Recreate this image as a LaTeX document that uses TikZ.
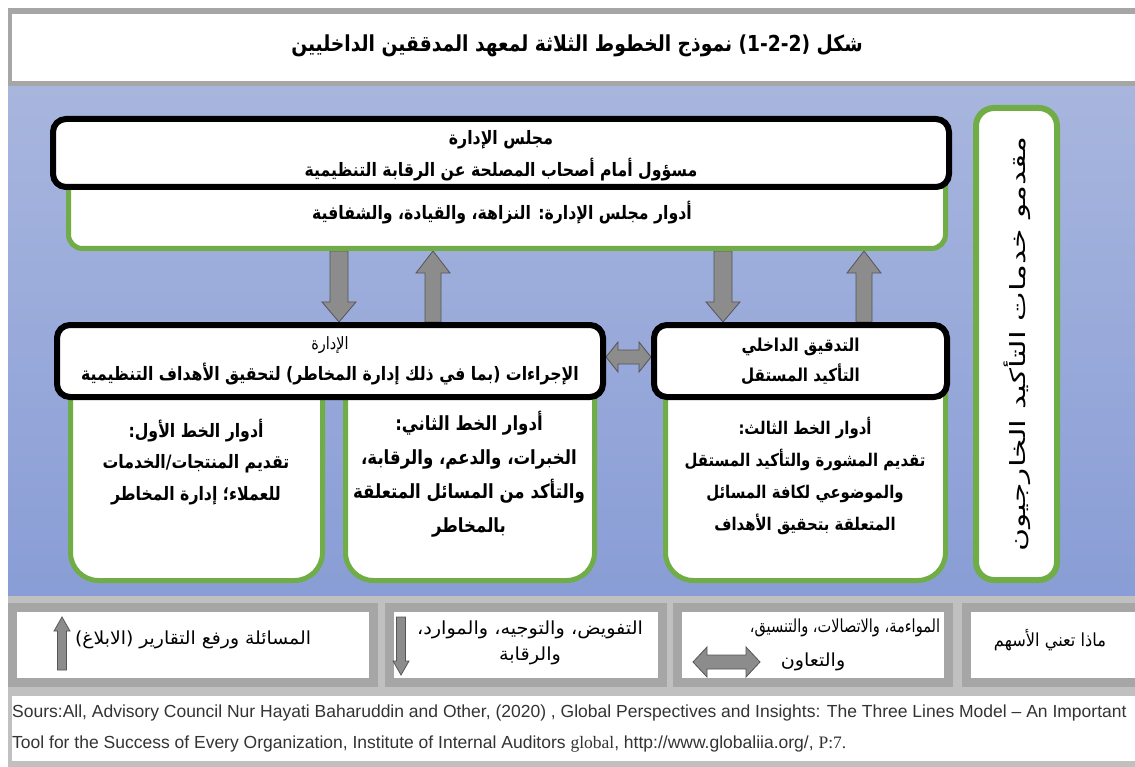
\documentclass[tikz,border=0pt]{standalone}
\usepackage{fontspec}
\usepackage{graphicx}
\usetikzlibrary{calc}
\TeXXeTstate=1
\newfontfamily\arfont[Script=Arabic,FakeStretch=0.85]{DejaVu Sans}
\newfontfamily\arwide[Script=Arabic,FakeStretch=1.5]{DejaVu Sans}
\newfontfamily\srcfont{Liberation Sans}
\newfontfamily\srcserif{Liberation Serif}
\newcommand{\RL}[1]{\beginR#1\endR}
\newcommand{\LR}[1]{\beginL#1\endL}
\newcommand{\hs}[2]{\scalebox{#1}[1]{#2}}

\definecolor{panelTop}{RGB}{168,182,222}
\definecolor{panelBot}{RGB}{137,157,214}
\definecolor{lineGreen}{RGB}{112,173,71}
\definecolor{arrowFill}{RGB}{140,140,140}
\definecolor{arrowEdge}{RGB}{85,85,85}
\definecolor{bandGray}{RGB}{192,192,192}
\definecolor{frameGray}{RGB}{166,166,166}

\pgfdeclarelayer{panel}
\pgfdeclarelayer{arrows}
\pgfsetlayers{panel,arrows,main}

% vertical block arrow: x, tail, tip, shaft half width, head half width, signed head length
\newcommand{\vblk}[6]{%
  \path[blk] let \p3=(#1,0), \p1=(#2), \p2=(#3) in
    (\x3-#4,\y1) -- (\x3-#4,\y2#6) -- (\x3-#5,\y2#6) -- (\x3,\y2)
    -- (\x3+#5,\y2#6) -- (\x3+#4,\y2#6) -- (\x3+#4,\y1) -- cycle;}
% horizontal double block arrow: y, left end, right end, shaft half, head half, head length
\newcommand{\hdbl}[6]{%
  \path[blk] let \p3=(0,#1), \p1=(#2), \p2=(#3) in
    (\x1,\y3) -- (\x1+#6,\y3+#5) -- (\x1+#6,\y3+#4) -- (\x2-#6,\y3+#4)
    -- (\x2-#6,\y3+#5) -- (\x2,\y3) -- (\x2-#6,\y3-#5) -- (\x2-#6,\y3-#4)
    -- (\x1+#6,\y3-#4) -- (\x1+#6,\y3-#5) -- cycle;}

\begin{document}
\begin{tikzpicture}[x=1pt,y=-1pt,
  blackbox/.style={draw=black, line width=6pt, fill=white, rounded corners=13pt, inner sep=0pt, align=center},
  greenbox/.style={draw=lineGreen, line width=5pt, fill=white, inner sep=0pt},
  legendbox/.style={draw=frameGray, line width=9pt, fill=white, inner sep=0pt, minimum height=75pt},
  blk/.style={fill=arrowFill, draw=arrowEdge, line width=0.8pt, line join=miter},
  boldtext/.style={font=\arfont\bfseries\fontsize{18.5}{32}\selectfont, align=center, inner sep=0pt},
  plaintext/.style={font=\arfont\fontsize{18}{26}\selectfont, align=center, inner sep=0pt}]

\useasboundingbox (0,0) rectangle (1135,767);

\begin{pgfonlayer}{panel}
\fill[white] (0,0) rectangle (1135,767);
% blue panel
\shade[top color=panelTop, bottom color=panelBot] (8,86) rectangle (1135,596);
\end{pgfonlayer}

% title band
\fill[frameGray] (8,8) rectangle (1135,86);
\fill[white] (12,14) rectangle (1135,81);
\node[font=\arfont\bfseries\fontsize{22}{26}\selectfont, inner sep=0pt] (title) at (577,46)
  {\RL{شكل \LR{(1-2-2)} نموذج الخطوط الثلاثة لمعهد المدققين الداخليين}};

% green role boxes (their tops hide under the black boxes)
\node[greenbox, rounded corners=14pt, minimum width=877pt, minimum height=90pt] (roles) at (507,203.5) {};
\node[greenbox, rounded corners=28pt, minimum width=252pt, minimum height=220pt] (line1) at (196.5,470.5) {};
\node[greenbox, rounded corners=28pt, minimum width=249pt, minimum height=220pt] (line2) at (470,470.5) {};
\node[greenbox, rounded corners=28pt, minimum width=280pt, minimum height=220pt] (line3) at (805.5,470.5) {};

% black headline boxes
\node[blackbox, minimum width=896pt, minimum height=68pt] (board) at (501,153) {};
\node[boldtext] (boardtxt) at (501,156)
  {\RL{مجلس الإدارة}\\\RL{مسؤول أمام أصحاب المصلحة عن الرقابة التنظيمية}};
\node[blackbox, minimum width=546pt, minimum height=72pt, font=\arfont\fontsize{17}{31}\selectfont] (mgmt) at (330,361)
  {\RL{الإدارة}\\{\bfseries\fontsize{18.5}{31}\selectfont\RL{الإجراءات (بما في ذلك إدارة المخاطر) لتحقيق الأهداف التنظيمية}}};
\node[blackbox, minimum width=293pt, minimum height=72pt, font=\arfont\bfseries\fontsize{17.8}{30}\selectfont] (audit) at (800.5,361)
  {\RL{التدقيق الداخلي}\\\RL{التأكيد المستقل}};

% block arrows between the boxes, beneath the box borders
\begin{pgfonlayer}{arrows}
\vblk{339}{roles.south}{mgmt.north}{9pt}{17pt}{+20pt}
\vblk{433}{mgmt.north}{roles.south}{8pt}{17pt}{-22pt}
\vblk{723}{roles.south}{audit.north}{9pt}{17pt}{+20pt}
\vblk{864}{audit.north}{roles.south}{8pt}{17pt}{-22pt}
\hdbl{357}{mgmt.east}{audit.west}{7pt}{15pt}{12pt}
\end{pgfonlayer}

% texts of the role boxes
\node[boldtext] (rolestxt) at (502,213) {\RL{أدوار مجلس الإدارة: النزاهة، والقيادة، والشفافية}};
\node[boldtext, font=\arfont\bfseries\fontsize{18.5}{31.5}\selectfont] (line1txt) at (196,462)
  {\RL{أدوار الخط الأول:}\\\RL{تقديم المنتجات/الخدمات}\\\RL{للعملاء؛ إدارة المخاطر}};
\node[boldtext, font=\arfont\bfseries\fontsize{19.5}{34}\selectfont] (line2txt) at (469,474)
  {\RL{أدوار الخط الثاني:}\\\RL{الخبرات، والدعم، والرقابة،}\\\RL{والتأكد من المسائل المتعلقة}\\\RL{بالمخاطر}};
\node[boldtext, font=\arfont\bfseries\fontsize{17.5}{32}\selectfont] (line3txt) at (805,476)
  {\RL{أدوار الخط الثالث:}\\\RL{تقديم المشورة والتأكيد المستقل}\\\RL{والموضوعي لكافة المسائل}\\\RL{المتعلقة بتحقيق الأهداف}};

% external assurance providers
\node[greenbox, line width=6pt, rounded corners=18pt, minimum width=81pt, minimum height=472pt] (ext) at (1016.5,344) {};
\node[font=\arwide\fontsize{21}{26}\selectfont, rotate=90, inner sep=0pt] (exttxt) at (1017,344)
  {\RL{مقدمو خدمات التأكيد الخارجيون}};

% legend band
\fill[bandGray] (8,596) rectangle (1135,767);
\node[legendbox, minimum width=361pt] (leg1) at (193,645) {};
\node[legendbox, minimum width=273pt] (leg2) at (526,645) {};
\node[legendbox, minimum width=271pt] (leg3) at (813,645) {};
\node[legendbox, minimum width=180pt] (leg4) at (1056.5,645) {};

\vblk{62}{0,670}{0,617}{4.5pt}{8pt}{-14pt}
\node[plaintext] (leg1txt) at (193,640) {\hs{1.23}{\RL{المسائلة ورفع التقارير (الابلاغ)}}};
\vblk{401}{0,617}{0,675}{4.5pt}{8pt}{+14pt}
\node[plaintext] (leg2txt) at (530,643)
  {\hs{1.26}{\RL{التفويض، والتوجيه، والموارد،}}\\\hs{1.26}{\RL{والرقابة}}};
\hdbl{662}{693,0}{760,0}{7pt}{15pt}{14pt}
\node[plaintext] (leg3a) at (845,628) {\hs{0.95}{\RL{المواءمة، والاتصالات، والتنسيق،}}};
\node[plaintext] (leg3b) at (813,662) {\hs{1.25}{\RL{والتعاون}}};
\node[plaintext] (leg4txt) at (1050,640) {\hs{1.06}{\RL{ماذا تعني الأسهم}}};

% source note
\fill[white] (12,696) rectangle (1135,761);
\node[anchor=north west, align=left, inner sep=0pt, text=black!80,
      font=\srcfont\fontsize{17.5}{31}\selectfont] (src) at (12,705)
  {Sours:All, Advisory Council Nur Hayati Baharuddin and Other, (2020) , Global Perspectives and Insights: The Three Lines Model – An Important\\
   Tool for the Success of Every Organization, Institute of Internal Auditors {\srcserif global}, http://www.globaliia.org/, {\srcserif P:7.}};
\end{tikzpicture}
\end{document}
